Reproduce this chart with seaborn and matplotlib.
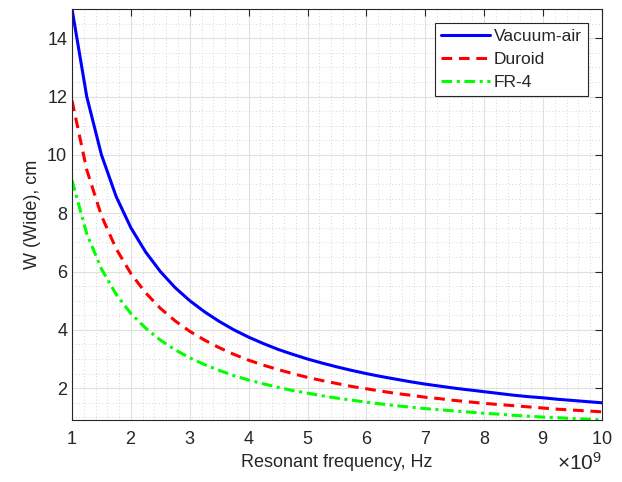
import matplotlib
matplotlib.use("Agg")
import matplotlib.pyplot as plt
import matplotlib.ticker as mticker
import numpy as np
import pandas as pd
import seaborn as sns

freq_ghz = [1, 1.25, 1.5, 1.75, 2, 2.25, 2.5, 2.75, 3, 3.25, 3.5, 3.75, 4, 4.25, 4.5,
            4.75, 5, 5.25, 5.5, 5.75, 6, 6.25, 6.5, 6.75, 7, 7.25, 7.5, 7.75, 8, 8.25,
            8.5, 8.75, 9, 9.25, 9.5, 9.75, 10]
vacuum_air = [15.00, 12.00, 10.00, 8.57, 7.50, 6.67, 6.00, 5.45, 5.00, 4.62, 4.29, 4.00,
              3.75, 3.53, 3.33, 3.16, 3.00, 2.86, 2.73, 2.61, 2.50, 2.40, 2.31, 2.22,
              2.14, 2.07, 2.00, 1.94, 1.88, 1.82, 1.76, 1.71, 1.67, 1.62, 1.58, 1.54, 1.50]
duroid = [11.86, 9.49, 7.91, 6.78, 5.93, 5.27, 4.74, 4.31, 3.95, 3.65, 3.39, 3.16, 2.96,
          2.79, 2.64, 2.50, 2.37, 2.26, 2.16, 2.06, 1.98, 1.90, 1.82, 1.76, 1.69, 1.64,
          1.58, 1.53, 1.48, 1.44, 1.40, 1.36, 1.32, 1.28, 1.25, 1.22, 1.19]
fr4 = [9.13, 7.30, 6.09, 5.22, 4.56, 4.06, 3.65, 3.32, 3.04, 2.81, 2.61, 2.43, 2.28,
       2.15, 2.03, 1.92, 1.83, 1.74, 1.66, 1.59, 1.52, 1.46, 1.40, 1.35, 1.30, 1.26,
       1.22, 1.18, 1.14, 1.11, 1.07, 1.04, 1.01, 0.99, 0.96, 0.94, 0.91]
series_names = ["Vacuum-air", "Duroid", "FR-4"]
x_ticks = [1, 2, 3, 4, 5, 6, 7, 8, 9, 10]
y_ticks = [2, 4, 6, 8, 10, 12, 14]

sns.set_style("white")
plt.rcParams['font.family'] = ['Liberation Sans', 'DejaVu Sans']
plt.rcParams['mathtext.fontset'] = 'custom'
plt.rcParams['mathtext.rm'] = 'Liberation Sans'

fig = plt.figure(figsize=(6.22, 4.82), dpi=100)
ax = fig.add_axes([72/622, 1-420/482, 530/622, 411/482])

x = np.array(freq_ghz) * 1e9
styles = [("#0000ff", "-"), ("#ff0000", (0, (3.5, 2.2))), ("#00ff00", (0, (3.5, 1.5, 1, 1.5)))]
for name, vals, (c, ls) in zip(series_names, [vacuum_air, duroid, fr4], styles):
    df = pd.DataFrame({"f": x, "W": vals})
    sns.lineplot(data=df, x="f", y="W", ax=ax, color=c, linestyle=ls, linewidth=2.2, label=name)

ax.set_xlim(1e9, 10e9)
ax.set_ylim(min(fr4), 15)
ax.set_xticks([t * 1e9 for t in x_ticks])
ax.set_yticks(y_ticks)
fmt = mticker.ScalarFormatter(useMathText=True)
fmt.set_powerlimits((9, 9))
ax.xaxis.set_major_formatter(fmt)
ax.xaxis.set_minor_locator(mticker.MultipleLocator(0.2e9))
ax.yaxis.set_minor_locator(mticker.MultipleLocator(0.5))

ax.grid(True, which="major", color="#e0e0e0", linewidth=0.8)
ax.grid(True, which="minor", color="#c8c8c8", linestyle=(0, (1, 3)), linewidth=0.6)
ax.set_axisbelow(True)

ax.tick_params(which="both", direction="in", top=True, right=True, colors="#262626",
               labelsize=13, labelcolor="#262626")
ax.tick_params(which="major", length=5, width=0.8)
ax.tick_params(which="minor", length=0)
ax.tick_params(axis="x", pad=8)
for s in ax.spines.values():
    s.set_color("#262626")
    s.set_linewidth(0.8)
ax.xaxis.get_offset_text().set_fontsize(15)
ax.xaxis.get_offset_text().set_color("#262626")

ax.set_xlabel("Resonant frequency, Hz", fontsize=13, color="#262626")
ax.set_ylabel("W (Wide), cm", fontsize=13, color="#262626")

leg = ax.legend(loc="upper right", fontsize=12.5, frameon=True, fancybox=False,
                edgecolor="#262626", framealpha=1, handlelength=2.8, borderpad=0.35,
                labelspacing=0.45, borderaxespad=0.8, handletextpad=0.25)
leg.get_frame().set_linewidth(0.8)

fig.savefig("out.png", dpi=100)
